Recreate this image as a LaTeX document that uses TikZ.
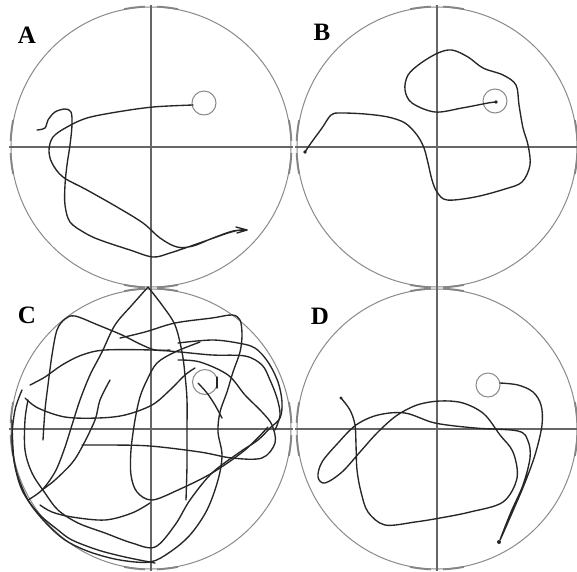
\documentclass[tikz,border=0pt]{standalone}
\usepackage{fontspec}
\setmainfont{Liberation Serif}
\definecolor{poolgray}{HTML}{8A8A8A}
\definecolor{axisgray}{HTML}{666666}
\definecolor{swimcol}{HTML}{262626}
\newcommand\poolpanel[2]{%
  \draw[pool] (#1,#2) circle[radius=140];
  \draw[axisline] ({#1-142},#2) -- ({#1+142},#2);
  \draw[axisline] (#1,{#2-142}) -- (#1,{#2+142});
  \foreach \a in {0,90,180,270}{%
    \draw[edgemark] ([shift={(#1,#2)}]\a+2.5:140.5) arc[start angle=\a+2.5,end angle=\a+11,radius=140.5];
    \draw[edgemark] ([shift={(#1,#2)}]\a-11:140.5) arc[start angle=\a-11,end angle=\a-2.5,radius=140.5];
  }%
}
\begin{document}
\begin{tikzpicture}[x=1pt,y=-1pt,
  pool/.style={draw=poolgray,line width=1pt},
  axisline/.style={draw=axisgray,line width=1.6pt},
  edgemark/.style={draw=axisgray!80,line width=1.8pt},
  swim/.style={draw=swimcol,line width=1.35pt,line join=round,line cap=round},
  goal/.style={draw=poolgray,line width=1pt},
  dotmark/.style={fill=swimcol},
  lab/.style={font=\fontsize{25}{25}\selectfont\bfseries,inner sep=0pt,text=black}]
\useasboundingbox (0,0) rectangle (577,571);
\fill[white] (0,0) rectangle (577,571);

% ---------------- panels
\poolpanel{151}{147}
\poolpanel{437}{147}
\poolpanel{151}{429}
\poolpanel{437}{429}

% ---------------- labels
\node[lab] (labA) at (27,35) {A};
\node[lab] (labB) at (322,32) {B};
\node[lab] (labC) at (27,315) {C};
\node[lab] (labD) at (320,316) {D};

% ---------------- goal platforms
\draw[goal] (204,103) circle[radius=12];
\draw[goal] (495,101) circle[radius=12];
\draw[goal] (205,382) circle[radius=12.5];
\draw[goal] (488,385) circle[radius=12];

% ---------------- A
\draw[swim] plot[smooth,tension=0.55] coordinates {
 (37,130) (45,128) (48,120) (55,112) (65,109) (71,112) (72,125) (70,145)
 (67,165) (65,185) (65,205) (70,222) (85,233) (100,240) (130,250) (153,257)
 (170,253) (188,247) (208,240) (228,233) (240,230) (247,230)
 (233,231) (213,238) (193,246) (177,247) (160,238) (143,223) (117,207)
 (87,190) (63,177) (52,163) (49,150) (53,137) (67,127) (87,118) (117,112)
 (153,107) (193,105)};
\draw[swim] (236,227) -- (247,230) -- (237,233);

% ---------------- B
\draw[swim] plot[smooth,tension=0.55] coordinates {
 (305,152) (311,143) (322,128) (331,115) (340,113) (365,114) (388,117)
 (405,123) (417,135) (424,148) (428,163) (432,180) (437,192) (447,200)
 (475,197) (505,189) (522,182) (530,165) (528,145) (523,128) (519,105)
 (516,85) (503,75) (483,68) (468,57) (452,50) (438,53) (421,63) (408,75)
 (405,90) (412,103) (435,112) (462,108) (488,103) (496,102)};
\fill[dotmark] (305,152) circle[radius=1.8];
\fill[dotmark] (496,102) circle[radius=1.8];

% ---------------- C
\draw[swim] plot[smooth,tension=0.55] coordinates {
 (148,287) (132,305) (115,325) (102,352) (90,375) (80,400) (72,425) (64,450)
 (55,472) (42,490) (28,500)};
\draw[swim] plot[smooth,tension=0.55] coordinates {
 (148,287) (162,305) (175,325) (182,352) (185,375) (187,400) (187,430)
 (187,465) (186,500)};
\draw[swim] plot[smooth,tension=0.55] coordinates {
 (30,385) (45,377) (62,365) (82,355) (105,350) (152,350) (180,352) (212,355)
 (245,356) (262,365) (270,380) (277,398) (280,415) (275,430)};
\draw[swim] plot[smooth,tension=0.55] coordinates {
 (43,440) (45,410) (48,385) (52,355) (57,330) (65,319) (75,316) (98,325)
 (122,335) (140,344) (155,350) (170,350)};
\draw[swim] plot[smooth,tension=0.55] coordinates {
 (120,338) (145,332) (175,323) (212,318) (232,315) (240,320) (242,335)
 (240,352) (233,372) (227,392) (220,412) (218,432) (222,455) (218,480)
 (207,510) (190,535) (170,552) (150,562) (120,560) (90,552) (65,540)
 (45,522) (28,500) (16,470) (12,440) (15,410) (22,390)};
\draw[swim] plot[smooth,tension=0.55] coordinates {
 (178,343) (212,340) (238,343) (255,348) (268,362) (278,382) (282,402)
 (280,418) (270,428) (258,440) (240,452) (212,473) (190,500) (175,525)
 (155,547) (132,543) (105,533) (78,523) (58,510) (45,493) (32,473) (25,450)
 (25,420) (28,400)};
\draw[swim] plot[smooth,tension=0.55] coordinates {
 (25,398) (38,408) (65,417) (98,418) (125,415) (152,405) (170,390)
 (185,375) (195,368)};
\draw[swim] plot[smooth,tension=0.55] coordinates {
 (200,342) (175,352) (157,363) (147,380) (140,397) (135,420) (131,450)
 (131,475) (137,492) (152,500) (178,490) (212,473) (245,450) (268,427)};
\draw[swim] plot[smooth,tension=0.55] coordinates {
 (40,505) (52,512) (72,517) (105,520) (132,513) (150,503)};
\draw[swim] plot[smooth,tension=0.55] coordinates {
 (82,445) (110,445) (150,446) (200,452) (232,458) (262,458) (275,443)
 (272,425) (262,412) (245,395) (228,375) (200,362) (178,360)};
\draw[swim] plot[smooth,tension=0.55] coordinates {
 (198,383) (207,393) (215,405) (222,418)};
\draw[swim] plot[smooth,tension=0.55] coordinates {
 (12,420) (14,460) (22,490) (38,513) (58,530) (72,540) (98,550) (125,557)
 (155,563)};
\draw[swim] plot[smooth,tension=0.55] coordinates {
 (110,380) (100,400) (95,420) (82,447) (72,463) (55,480) (42,490)};
\draw[swim] (217,377) -- (217,388);

% ---------------- D
\draw[swim] plot[smooth,tension=0.55] coordinates {
 (341,398) (350,410) (355,425) (356,445) (357,470) (361,492) (368,512)
 (385,525) (415,522) (440,518) (470,512) (503,502) (517,478) (513,452)
 (500,435) (484,414) (463,403) (440,401) (417,405) (396,416) (377,433)
 (360,452) (342,472) (325,483) (318,477) (322,462) (338,443) (356,425)
 (378,415) (405,413) (435,423) (475,428) (518,431) (528,441) (530,458)
 (523,485) (511,512) (500,540)
 (512,513) (524,485) (535,455) (542,425) (541,405) (533,392) (518,385)
 (500,383)};
\fill[dotmark] (341,398) circle[radius=1.6];
\fill[dotmark] (499,542) circle[radius=2];
\end{tikzpicture}
\end{document}
